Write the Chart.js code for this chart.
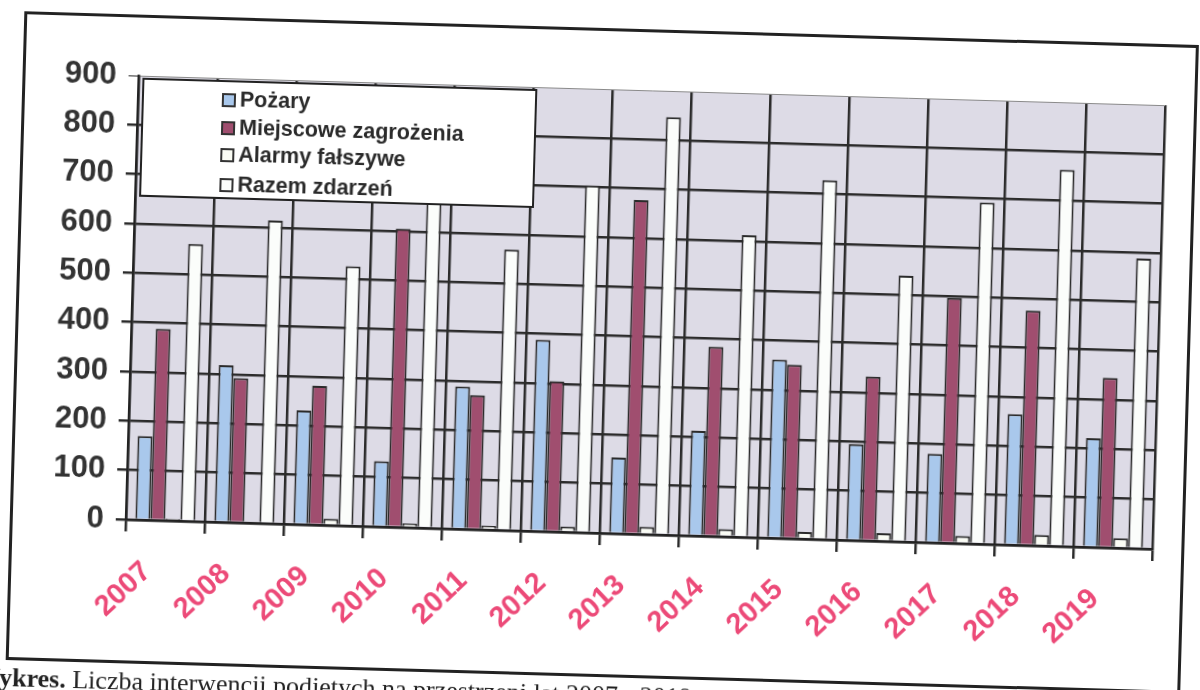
<!DOCTYPE html>
<html lang="pl">
<head>
<meta charset="UTF-8">
<style>
  html, body { margin: 0; padding: 0; background: #fff; width: 1200px; height: 690px; overflow: hidden; }
  /* the scanned page sits a little crooked */
  #page { position: absolute; left: 0; top: 0; width: 1200px; height: 690px; transform: rotate(1.65deg); transform-origin: 600px 345px; }
  #frame { position: absolute; left: 15px; top: 28px; width: 1169px; height: 643px; border: 3px solid #222; }
  #myChart { position: absolute; left: 0; top: 0; }
  #legend { position: absolute; left: 135px; top: 91px; width: 391px; height: 115px; background: #fff; border: 2px solid #222;
            font: bold 21.5px "Liberation Sans", Arial, sans-serif; color: #2a2a2a; }
  #legend .item { position: absolute; left: 78px; height: 24px; line-height: 24px; white-space: nowrap; }
  #legend .sw { display: inline-block; width: 10px; height: 10px; border: 2px solid #333; margin-right: 4px; vertical-align: -1px; }
  #caption { position: absolute; left: -16px; top: 682px; font: 26px/1 "Liberation Serif", serif; color: #222; white-space: nowrap; }
</style>
</head>
<body>
<div id="page">
  <div id="frame"></div>
  <canvas id="myChart" width="1200" height="690"></canvas>
  <div id="legend"></div>
  <div id="caption"><b>Wykres.</b> Liczba interwencji podjętych na przestrzeni lat 2007 - 2019</div>
</div>
<script src="https://cdn.jsdelivr.net/npm/chart.js@4.4.0/dist/chart.umd.min.js"></script>
<script>
const years = ['2007', '2008', '2009', '2010', '2011', '2012', '2013', '2014', '2015', '2016', '2017', '2018', '2019'];
const pozary = [170, 318, 231, 133, 289, 388, 154, 213, 362, 195, 180, 265, 221];
const miejscowe = [388, 293, 282, 605, 272, 305, 677, 384, 352, 333, 497, 476, 344];
const alarmy = [4, 3, 13, 8, 8, 11, 15, 15, 14, 16, 15, 22, 20];
const razem = [562, 614, 526, 746, 569, 704, 847, 612, 728, 539, 692, 763, 588];

const seriesNames = ['Pożary', 'Miejscowe zagrożenia', 'Alarmy fałszywe', 'Razem zdarzeń'];
const seriesColors = ['#a9c8ec', '#a04e6f', '#fafcf4', '#fbfdfb'];
const yMax = 900;
const yStep = 100;

const ink = '#2b2b2b';
const font = '"Liberation Sans", Arial, sans-serif';

// grey plot area like the old excel charts
const plotBg = {
    id: 'plotBg',
    beforeDraw(chart) {
        const a = chart.chartArea;
        const ctx = chart.ctx;
        ctx.save();
        ctx.fillStyle = '#dddbe6';
        ctx.fillRect(a.left, a.top, a.right - a.left, a.bottom - a.top);
        ctx.restore();
    }
};

const values = [pozary, miejscowe, alarmy, razem];
const datasets = values.map((v, i) => ({
    label: seriesNames[i],
    data: v,
    backgroundColor: seriesColors[i],
    borderColor: ink,
    borderWidth: 2,
    categoryPercentage: 0.76,
    barPercentage: 1.0
}));

new Chart(document.getElementById('myChart'), {
    type: 'bar',
    data: { labels: years, datasets: datasets },
    options: {
        responsive: false,
        animation: false,
        layout: { padding: { top: 89, right: 42, left: 0, bottom: 0 } },
        plugins: {
            legend: { display: false },
            tooltip: { enabled: false }
        },
        scales: {
            x: {
                grid: {
                    offset: true,
                    color: c => c.index === years.length ? '#8a8a8a' : ink,
                    lineWidth: c => c.index === years.length ? 1 : 2.5,
                    tickColor: ink,
                    tickLength: 12
                },
                border: { color: '#222', width: 2.5 },
                ticks: {
                    color: '#ec4a78',
                    font: { family: font, size: 29, weight: 'bold' },
                    minRotation: 45,
                    maxRotation: 45,
                    padding: 23,
                    labelOffset: -17
                },
                afterFit(s) { s.height = 157; }
            },
            y: {
                min: 0,
                max: yMax,
                ticks: {
                    stepSize: yStep,
                    color: '#333',
                    font: { family: font, size: 31, weight: 'bold' },
                    padding: 12
                },
                grid: {
                    color: c => c.tick && c.tick.value === yMax ? '#8a8a8a' : ink,
                    lineWidth: c => c.tick && c.tick.value === yMax ? 1 : 2.5,
                    tickColor: ink,
                    tickLength: 10
                },
                border: { color: '#222', width: 2.5 },
                afterFit(s) { s.width = 131; }
            }
        }
    },
    plugins: [plotBg]
});

// legend box drawn over the plot, top left corner
const legend = document.getElementById('legend');
const rowTop = [5, 33, 60, 90];
seriesNames.forEach((name, i) => {
    const item = document.createElement('div');
    item.className = 'item';
    item.style.top = rowTop[i] + 'px';
    item.innerHTML = '<span class="sw" style="background:' + seriesColors[i] + '"></span>' + name;
    legend.appendChild(item);
});
</script>
</body>
</html>
